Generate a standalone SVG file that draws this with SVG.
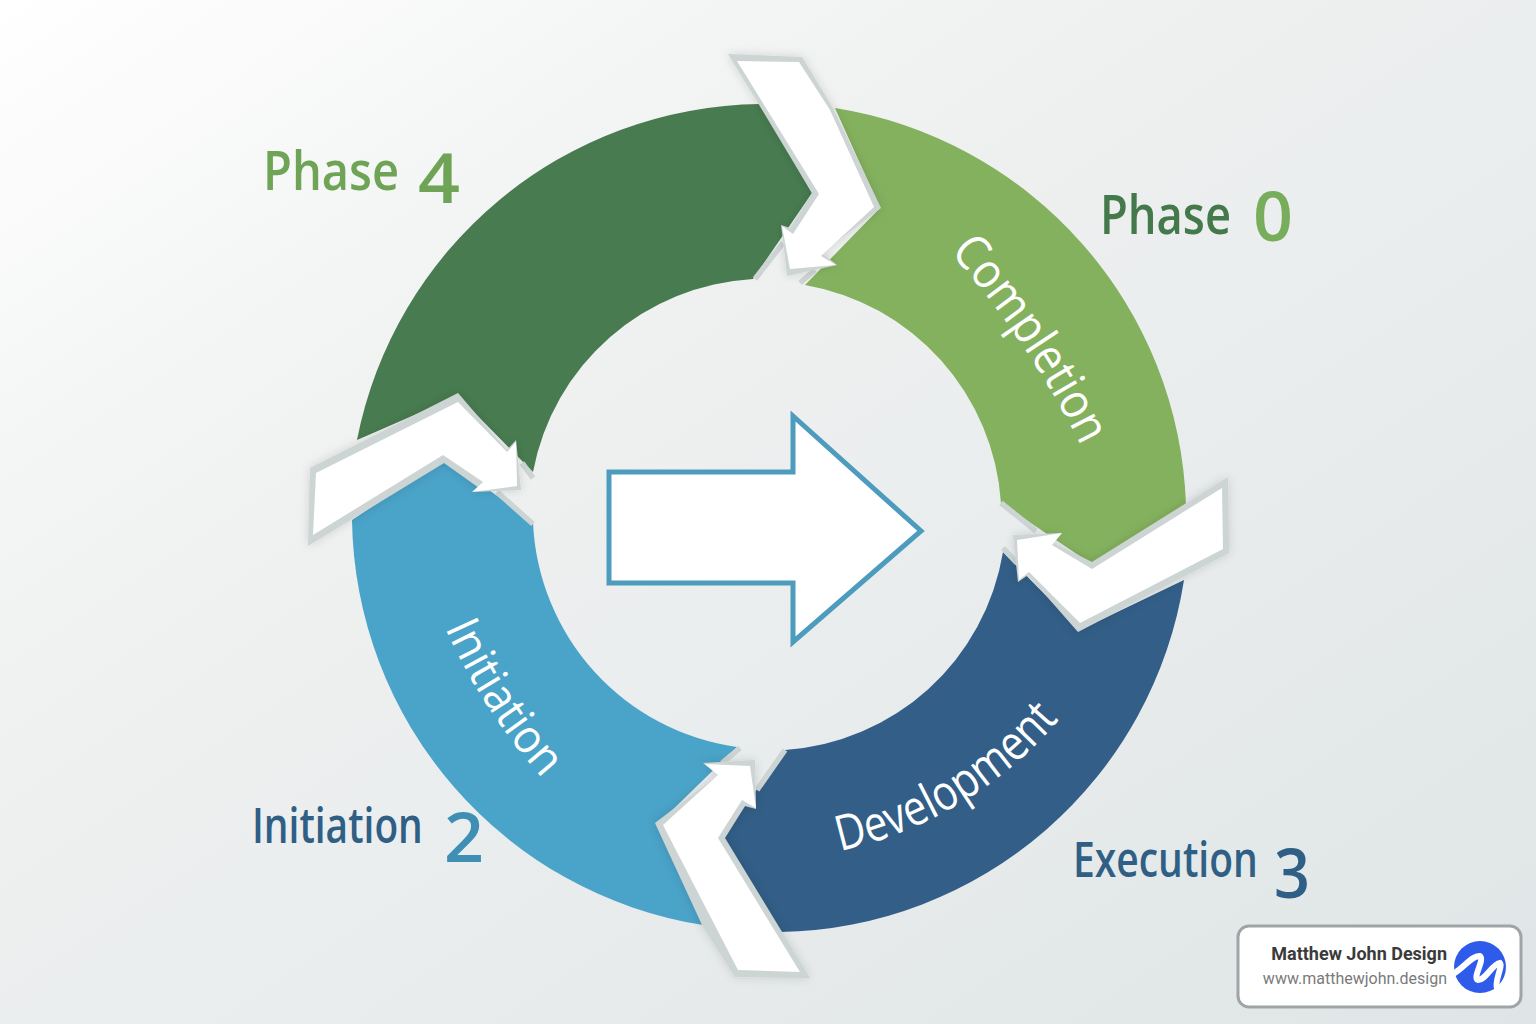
<svg xmlns="http://www.w3.org/2000/svg" xmlns:xlink="http://www.w3.org/1999/xlink" width="1536" height="1024" viewBox="0 0 1536 1024">
<defs>
<linearGradient id="bg" x1="0" y1="0" x2="1" y2="1"><stop offset="0" stop-color="#ffffff"/><stop offset="0.3" stop-color="#f1f2f2"/><stop offset="1" stop-color="#dfe5e6"/></linearGradient>
<filter id="sh" x="-20%" y="-20%" width="140%" height="140%"><feDropShadow dx="0" dy="0" stdDeviation="5" flood-color="#000" flood-opacity="0.14"/></filter>
<path id="pc" d="M 950 252 A 900 900 0 0 1 1084 452"/>
<path id="pd" d="M 840 851 A 400 400 0 0 0 1062 716"/>
<path id="pi" d="M 445 628 A 600 600 0 0 0 542 778"/>
</defs>
<style>
.bd{fill:#cdd4d4}
.wh{fill:#fff}
.ex{fill:none;stroke:#cdd4d4;stroke-width:5.5}
.lb{font-family:"Open Sans","Noto Sans",sans-serif;font-weight:600}
.dg{font-family:"Open Sans","Noto Sans",sans-serif;font-weight:600}
.rt{font-family:"Open Sans","Noto Sans",sans-serif;font-size:49px;fill:#fff}
</style>
<rect width="1536" height="1024" fill="url(#bg)"/>
<g id="ring">
<path id="seg-dark-green" d="M357 440 A416 416 0 0 1 760 104 L812 193 L753 279 A237 237 0 0 0 533 472 L458 396 Z" fill="#487b50"/>
<path id="seg-light-green" d="M835 108 A416 416 0 0 1 1186 505 L1093 565 L1001 503 A237 237 0 0 0 805 285 L880 208 Z" fill="#84b15e"/>
<path id="seg-dark-blue" d="M1184 580 A416 416 0 0 1 780 932 L722 838 L785 750 A237 237 0 0 0 1003 552 L1080 630 Z" fill="#325e87"/>
<path id="seg-light-blue" d="M703 925 A416 416 0 0 1 352 520 L445 458 L533 522 A237 237 0 0 0 737 747 L657 825 Z" fill="#4aa3c8"/>
</g>
<g id="connectors">
<path class="ex" d="M783 243L755 279M815 270L800 283M1001 503L1036 531M1003 548L1017 563M497 492L533 524M522 463L533 478M740 748L722 763M785 750L757 790"/>
<g id="arrow-top"><polygon class="bd" filter="url(#sh)" points="728,54 802,57 833,108 881,208 822,253 837,265 787,276 783,240 781,225 790,228 812,193 758,103"/><polygon class="wh" points="737,61 799,62 830,110 874,207 821,256 836,265 790,269 782,226 793,234 819,194"/></g>
<g id="arrow-right"><polygon class="bd" filter="url(#sh)" points="1228,477 1229,553 1078,632 1028,575 1018,582 1013,535 1062,533 1048,540 1092,562"/><polygon class="wh" points="1222,488 1223,549 1080,623 1029,572 1019,580 1017,540 1062,533 1052,545 1092,569"/></g>
<g id="arrow-left"><polygon class="bd" filter="url(#sh)" points="458,393 310,468 308,546 444,463 482,490 472,492 521,490 516,440 507,450"/><polygon class="wh" points="458,402 316,473 313,535 443,455 483,482 472,492 517,486 516,442 507,452"/></g>
<g id="arrow-bottom"><polygon class="bd" filter="url(#sh)" points="655,823 703,927 735,977 810,978 725,838 745,806 756,809 755,760 703,763 718,775"/><polygon class="wh" points="663,825 738,970 800,972 718,838 742,800 756,808 750,766 705,764 718,775"/></g>
</g>
<g id="center-arrow"><polygon points="609,472 793,472 793,416 921,531 793,642 793,583 609,583" fill="#fff" stroke="#4d9cbe" stroke-width="5"/></g>
<g id="label-phase4"><text class="lb" x="263" y="190" font-size="54" fill="#6fa355" textLength="136" lengthAdjust="spacingAndGlyphs">Phase</text><text class="dg" x="418" y="203" font-size="68" fill="#6fa355" textLength="42" lengthAdjust="spacingAndGlyphs">4</text></g>
<g id="label-phase0"><text class="lb" x="1100" y="234" font-size="54" fill="#44794c" textLength="131" lengthAdjust="spacingAndGlyphs">Phase</text><text class="dg" x="1253" y="241" font-size="68" fill="#78ad5c" textLength="40" lengthAdjust="spacingAndGlyphs">0</text></g>
<g id="label-initiation"><text class="lb" transform="translate(252 843) scale(.78 1)" font-size="48" fill="#2f5f85" textLength="219" lengthAdjust="spacingAndGlyphs">Initiation</text><text class="dg" x="444" y="862" font-size="68" fill="#3f8fb5" textLength="40" lengthAdjust="spacingAndGlyphs">2</text></g>
<g id="label-execution"><text class="lb" transform="translate(1073 877) scale(.8 1)" font-size="48" fill="#2f5f85" textLength="231" lengthAdjust="spacingAndGlyphs">Execution</text><text class="dg" x="1274" y="898" font-size="68" fill="#2f5f85" textLength="36" lengthAdjust="spacingAndGlyphs">3</text></g>
<g id="seg-labels">
<text class="rt"><textPath href="#pc" xlink:href="#pc" textLength="235" lengthAdjust="spacingAndGlyphs">Completion</textPath></text>
<text class="rt"><textPath href="#pd" xlink:href="#pd" textLength="260" lengthAdjust="spacingAndGlyphs">Development</textPath></text>
<text class="rt" style="font-size:47px"><textPath href="#pi" xlink:href="#pi" textLength="180" lengthAdjust="spacingAndGlyphs">Initiation</textPath></text>
</g>
<g id="badge">
<rect x="1238" y="926" width="283" height="81" rx="11" fill="#fff" stroke="#9fa4a6" stroke-width="3"/>
<text x="1447" y="960" text-anchor="end" font-family="Roboto,sans-serif" font-size="18" font-weight="700" fill="#3a3a3a">Matthew John Design</text>
<text x="1447" y="984" text-anchor="end" font-family="Roboto,sans-serif" font-size="16" fill="#7a7a7a">www.matthewjohn.design</text>
<circle cx="1480" cy="967" r="26" fill="#2f5bea"/>
<path d="M1453 974 C1464 968 1472 955 1480 956 C1485 960 1472 978 1478 980 C1486 980 1492 964 1500 963 C1503 966 1494 982 1497 988" fill="none" stroke="#fff" stroke-width="6"/>
</g>
</svg>
